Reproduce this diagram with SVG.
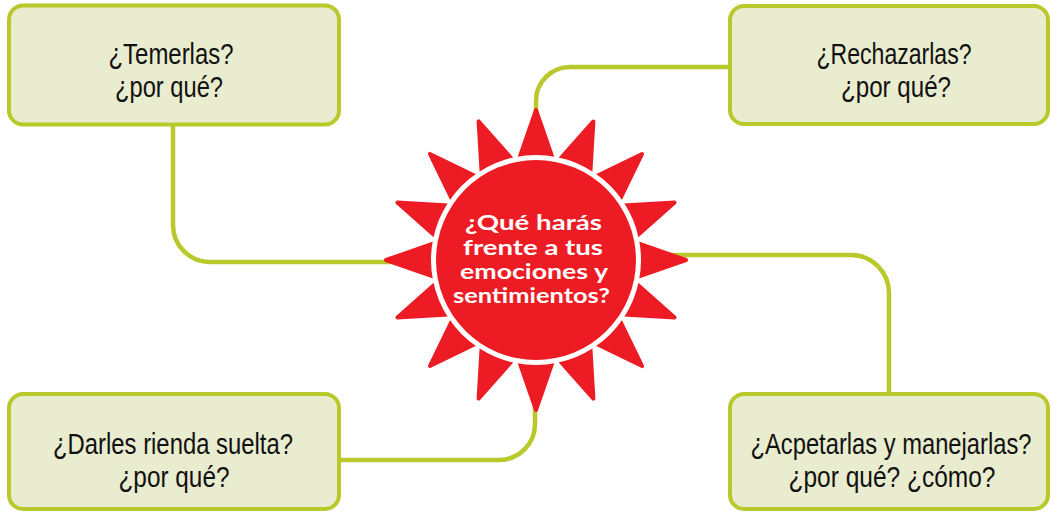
<svg xmlns="http://www.w3.org/2000/svg" width="1051" height="513" viewBox="0 0 1051 513">
<defs>
<style>
.conn{fill:none;stroke:#b9c92b;stroke-width:4.5}
.box{fill:#e9ecce;stroke:#b9c92b;stroke-width:4}
.lbl{font-family:"Liberation Sans",Arial,sans-serif;font-size:29px;fill:#111;text-anchor:middle}
.sun{font-family:"Lato","DejaVu Sans",sans-serif;font-weight:bold;font-size:21px;fill:#fff}
.ray{fill:#ed1c24;stroke:#ed1c24;stroke-width:4;stroke-linejoin:round}
</style>
<polygon id="ray" class="ray" points="0,-150 -18,-98 18,-98"/>
</defs>
<rect width="1051" height="513" fill="#fff"/>
<g id="connectors">
<path class="conn" d="M173,124 V225 A37,37 0 0 0 210,262 H420"/>
<path class="conn" d="M730,67 H570 A34,34 0 0 0 536,101 V140"/>
<path class="conn" d="M650,255 H851 A38,38 0 0 1 889,293 V394"/>
<path class="conn" d="M339,460 H499 A36,36 0 0 0 535,424 V380"/>
</g>
<g id="node-temerlas">
<rect class="box" x="9" y="5.5" width="330" height="119" rx="14"/>
<text class="lbl" x="171" y="64" textLength="125" lengthAdjust="spacingAndGlyphs">¿Temerlas?</text>
<text class="lbl" x="169" y="97" textLength="108" lengthAdjust="spacingAndGlyphs">¿por qué?</text>
</g>
<g id="node-rechazarlas">
<rect class="box" x="730" y="6" width="318" height="118" rx="14"/>
<text class="lbl" x="894" y="64" textLength="155" lengthAdjust="spacingAndGlyphs">¿Rechazarlas?</text>
<text class="lbl" x="896" y="97" textLength="110" lengthAdjust="spacingAndGlyphs">¿por qué?</text>
</g>
<g id="node-darles">
<rect class="box" x="9" y="394" width="330" height="115" rx="14"/>
<text class="lbl" x="173" y="454" textLength="240" lengthAdjust="spacingAndGlyphs">¿Darles rienda suelta?</text>
<text class="lbl" x="174" y="487" textLength="111" lengthAdjust="spacingAndGlyphs">¿por qué?</text>
</g>
<g id="node-aceptarlas">
<rect class="box" x="730" y="394" width="318" height="115" rx="14"/>
<text class="lbl" x="891" y="454" textLength="281" lengthAdjust="spacingAndGlyphs">¿Acpetarlas y manejarlas?</text>
<text class="lbl" x="892" y="487" textLength="207" lengthAdjust="spacingAndGlyphs">¿por qué? ¿cómo?</text>
</g>
<g id="node-sun" transform="translate(536,260)">
<use href="#ray" transform="rotate(0)"/>
<use href="#ray" transform="rotate(22.5)"/>
<use href="#ray" transform="rotate(45)"/>
<use href="#ray" transform="rotate(67.5)"/>
<use href="#ray" transform="rotate(90)"/>
<use href="#ray" transform="rotate(112.5)"/>
<use href="#ray" transform="rotate(135)"/>
<use href="#ray" transform="rotate(157.5)"/>
<use href="#ray" transform="rotate(180)"/>
<use href="#ray" transform="rotate(202.5)"/>
<use href="#ray" transform="rotate(225)"/>
<use href="#ray" transform="rotate(247.5)"/>
<use href="#ray" transform="rotate(270)"/>
<use href="#ray" transform="rotate(292.5)"/>
<use href="#ray" transform="rotate(315)"/>
<use href="#ray" transform="rotate(337.5)"/>
<circle r="105" fill="#fff"/>
<circle r="100" fill="#ed1c24"/>
<text class="sun" x="-71" y="-30" textLength="137" lengthAdjust="spacingAndGlyphs">¿Qué harás</text>
<text class="sun" x="-73" y="-5" textLength="140" lengthAdjust="spacingAndGlyphs">frente a tus</text>
<text class="sun" x="-76" y="19" textLength="148" lengthAdjust="spacingAndGlyphs">emociones y</text>
<text class="sun" x="-83" y="43" textLength="157" lengthAdjust="spacingAndGlyphs">sentimientos?</text>
</g>
</svg>
